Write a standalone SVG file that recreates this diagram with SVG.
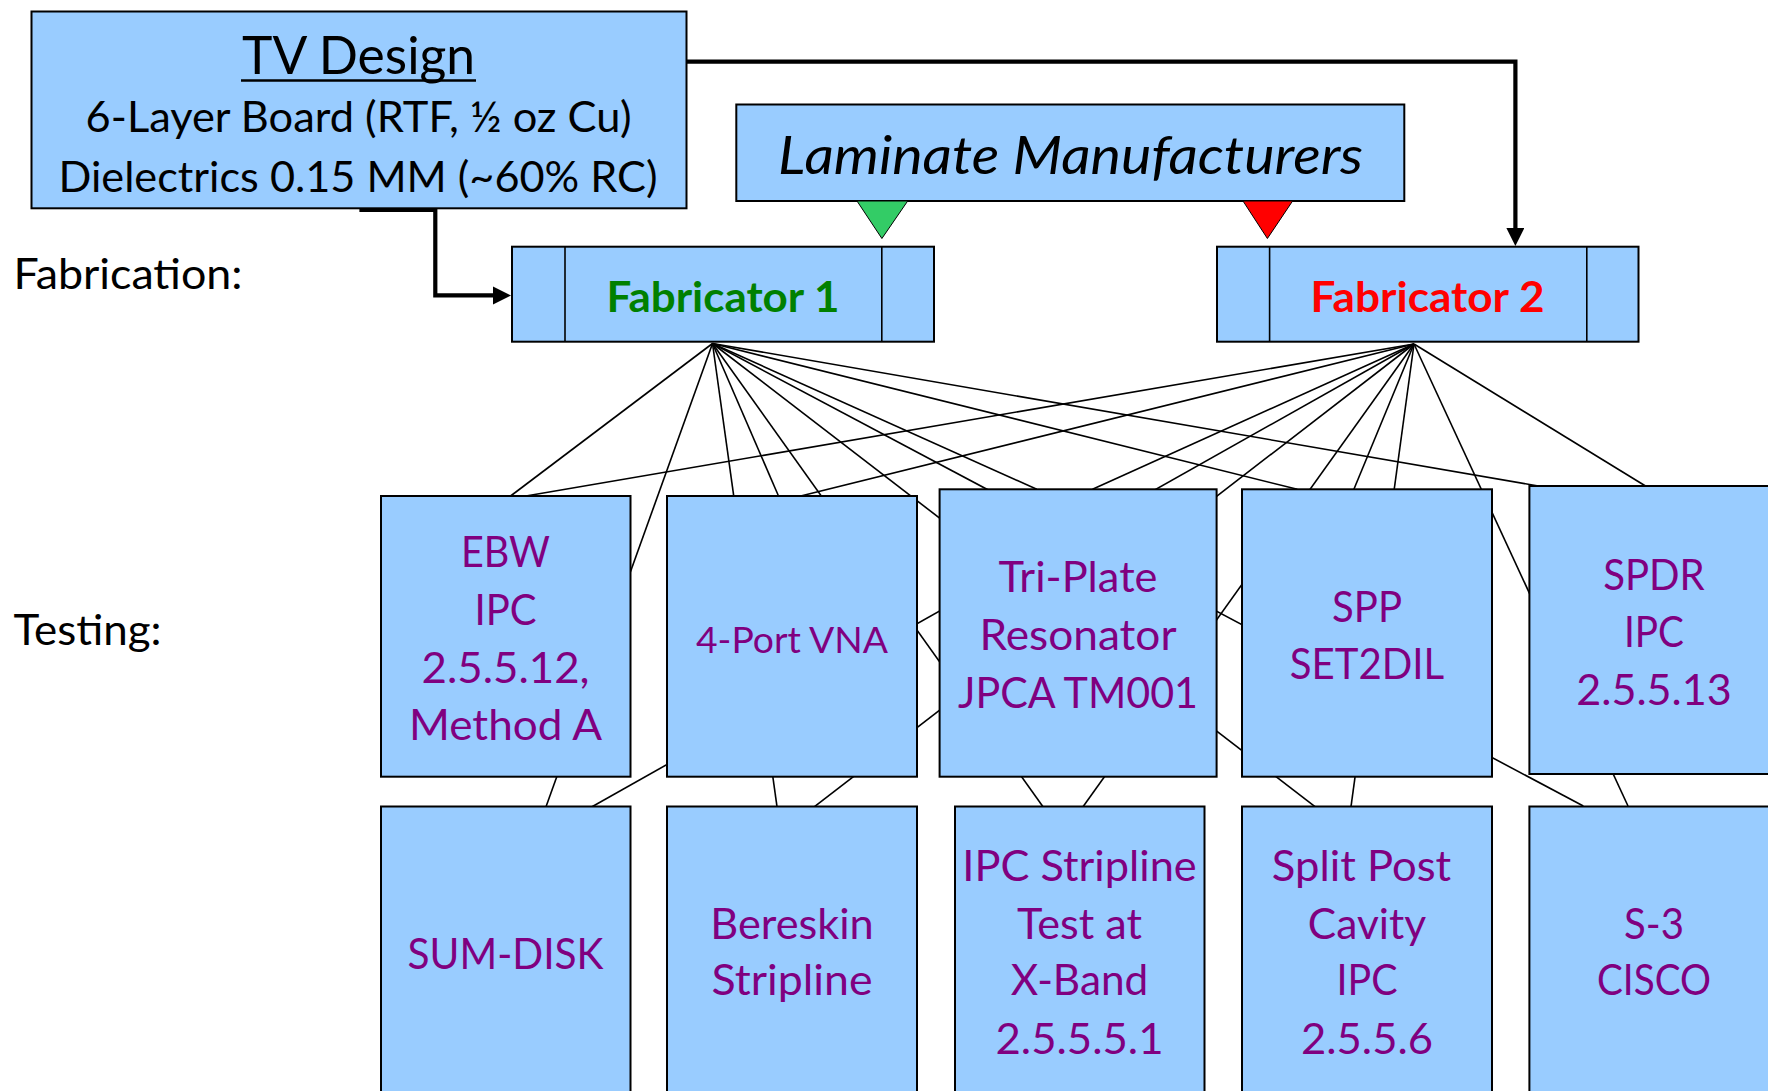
<svg xmlns="http://www.w3.org/2000/svg" width="1768" height="1091" viewBox="0 0 1768 1091">
<style>
.box{fill:#99CCFF;stroke:#000;stroke-width:2}
.div{stroke:#000;stroke-width:1.6}
.f{font-family:Lato,'Liberation Sans',sans-serif;text-anchor:middle}
.p{fill:#800080;font-size:42.5px}
.k{fill:#000;font-size:42.5px}
.fan{stroke:#000;stroke-width:1.6;fill:none}
.thick{stroke:#000;stroke-width:4.2;fill:none}
</style>
<defs>
<marker id="ah" markerUnits="userSpaceOnUse" markerWidth="20" markerHeight="20" refX="12" refY="9" orient="auto">
<path d="M0,0 L18,9 L0,18 Z" fill="#000"/>
</marker>
</defs>
<rect width="1768" height="1091" fill="#fff"/>

<g id="connectors">
<g class="fan">
<line x1="712.5" y1="343.5" x2="510.6" y2="496"/>
<line x1="712.5" y1="343.5" x2="546" y2="806.7"/>
<line x1="712.5" y1="343.5" x2="778.5" y2="496"/>
<line x1="712.5" y1="343.5" x2="777" y2="806.7"/>
<line x1="712.5" y1="343.5" x2="1043" y2="806.7"/>
<line x1="712.5" y1="343.5" x2="1315" y2="806.7"/>
<line x1="712.5" y1="343.5" x2="1036.8" y2="489.3"/>
<line x1="712.5" y1="343.5" x2="1583.3" y2="806"/>
<line x1="712.5" y1="343.5" x2="1297.3" y2="489.3"/>
<line x1="712.5" y1="343.5" x2="1538.4" y2="486"/>
<line x1="1414" y1="344" x2="525.9" y2="496"/>
<line x1="1414" y1="344" x2="800.7" y2="496"/>
<line x1="1414" y1="344" x2="592" y2="806.7"/>
<line x1="1414" y1="344" x2="814.5" y2="806.7"/>
<line x1="1414" y1="344" x2="1092.5" y2="489.3"/>
<line x1="1414" y1="344" x2="1083" y2="806.7"/>
<line x1="1414" y1="344" x2="1353.9" y2="489.3"/>
<line x1="1414" y1="344" x2="1351" y2="806.7"/>
<line x1="1414" y1="344" x2="1628" y2="806"/>
<line x1="1414" y1="344" x2="1645.5" y2="486"/>
</g>
<path class="thick" d="M359.4,209.8 H435.3 V295.4 H505" marker-end="url(#ah)"/>
<path class="thick" d="M686,61.7 H1515.4 V240" marker-end="url(#ah)"/>
</g>

<g id="tv-design">
<rect class="box" x="31.5" y="11.5" width="655" height="196.8"/>
<text class="f" x="358.6" y="74" font-size="52" fill="#000" textLength="233" lengthAdjust="spacingAndGlyphs">TV Design</text>
<line x1="241" y1="80.5" x2="476" y2="80.5" stroke="#000" stroke-width="2.5"/>
<text class="f k" x="358.6" y="132" textLength="546" lengthAdjust="spacingAndGlyphs">6-Layer Board (RTF, ½ oz Cu)</text>
<text class="f k" x="358" y="191.5" textLength="599" lengthAdjust="spacingAndGlyphs">Dielectrics 0.15 MM (~60% RC)</text>
</g>

<g id="laminate-manufacturers">
<rect class="box" x="736.3" y="104.5" width="668" height="96.5"/>
<text class="f" x="1070.6" y="174" font-size="52" font-style="italic" fill="#000" textLength="585" lengthAdjust="spacingAndGlyphs">Laminate Manufacturers</text>
<path d="M857,201 L907.7,201 L881.9,238.5 Z" fill="#33CC66" stroke="#000" stroke-width="1"/>
<path d="M1243,201 L1292.6,201 L1267.4,238.5 Z" fill="#FF0000" stroke="#000" stroke-width="1"/>
</g>

<g id="label-fabrication">
<text x="13.5" y="288.5" font-family="Lato,'Liberation Sans',sans-serif" font-size="42.5" fill="#000" textLength="229" lengthAdjust="spacingAndGlyphs">Fabrication:</text>
</g>
<g id="label-testing">
<text x="13.5" y="645" font-family="Lato,'Liberation Sans',sans-serif" font-size="42.5" fill="#000" textLength="148" lengthAdjust="spacingAndGlyphs">Testing:</text>
</g>

<g id="fabricator-1">
<rect class="box" x="512" y="246.7" width="422" height="95"/>
<line class="div" x1="565" y1="246.7" x2="565" y2="341.7"/>
<line class="div" x1="881.8" y1="246.7" x2="881.8" y2="341.7"/>
<text class="f" x="723" y="312" font-size="42" font-weight="bold" fill="#008000" textLength="233" lengthAdjust="spacingAndGlyphs">Fabricator 1</text>
</g>

<g id="fabricator-2">
<rect class="box" x="1217" y="246.7" width="421.5" height="95"/>
<line class="div" x1="1269.6" y1="246.7" x2="1269.6" y2="341.7"/>
<line class="div" x1="1586.8" y1="246.7" x2="1586.8" y2="341.7"/>
<text class="f" x="1427.5" y="312" font-size="42" font-weight="bold" fill="#FF0000" textLength="234" lengthAdjust="spacingAndGlyphs">Fabricator 2</text>
</g>

<g id="ebw">
<rect class="box" x="381" y="496" width="249.5" height="280.7"/>
<text class="f p" x="505.5" y="567" textLength="89" lengthAdjust="spacingAndGlyphs">EBW</text>
<text class="f p" x="505.5" y="625.3" textLength="62" lengthAdjust="spacingAndGlyphs">IPC</text>
<text class="f p" x="505.5" y="682.7" textLength="168" lengthAdjust="spacingAndGlyphs">2.5.5.12,</text>
<text class="f p" x="505.5" y="740.3" textLength="193" lengthAdjust="spacingAndGlyphs">Method A</text>
</g>

<g id="four-port-vna">
<rect class="box" x="667" y="496" width="250" height="280.7"/>
<text class="f" x="792" y="652.5" font-size="37.5" fill="#800080" textLength="192" lengthAdjust="spacingAndGlyphs">4-Port VNA</text>
</g>

<g id="tri-plate">
<rect class="box" x="939.6" y="489.3" width="277" height="287.4"/>
<text class="f p" x="1078" y="592" textLength="159" lengthAdjust="spacingAndGlyphs">Tri-Plate</text>
<text class="f p" x="1078" y="650.3" textLength="197" lengthAdjust="spacingAndGlyphs">Resonator</text>
<text class="f p" x="1078" y="708" textLength="240" lengthAdjust="spacingAndGlyphs">JPCA TM001</text>
</g>

<g id="spp">
<rect class="box" x="1242" y="489.3" width="250" height="287.4"/>
<text class="f p" x="1367" y="622" textLength="70" lengthAdjust="spacingAndGlyphs">SPP</text>
<text class="f p" x="1367" y="679.3" textLength="154.5" lengthAdjust="spacingAndGlyphs">SET2DIL</text>
</g>

<g id="spdr">
<rect class="box" x="1529.4" y="486" width="251" height="288"/>
<text class="f p" x="1654" y="590.3" textLength="101.5" lengthAdjust="spacingAndGlyphs">SPDR</text>
<text class="f p" x="1654" y="647" textLength="60" lengthAdjust="spacingAndGlyphs">IPC</text>
<text class="f p" x="1654" y="704.7" textLength="155.6" lengthAdjust="spacingAndGlyphs">2.5.5.13</text>
</g>

<g id="sum-disk">
<rect class="box" x="381" y="806.5" width="249.5" height="300"/>
<text class="f p" x="505.5" y="968.7" textLength="196" lengthAdjust="spacingAndGlyphs">SUM-DISK</text>
</g>

<g id="bereskin">
<rect class="box" x="667" y="806.5" width="250" height="300"/>
<text class="f p" x="792" y="938.7" textLength="163.5" lengthAdjust="spacingAndGlyphs">Bereskin</text>
<text class="f p" x="792" y="995.3" textLength="161" lengthAdjust="spacingAndGlyphs">Stripline</text>
</g>

<g id="ipc-stripline">
<rect class="box" x="955" y="806.5" width="249.5" height="300"/>
<text class="f p" x="1079.5" y="881.3" textLength="234.5" lengthAdjust="spacingAndGlyphs">IPC Stripline</text>
<text class="f p" x="1079.5" y="938.7" textLength="125" lengthAdjust="spacingAndGlyphs">Test at</text>
<text class="f p" x="1079.5" y="995.3" textLength="137.6" lengthAdjust="spacingAndGlyphs">X-Band</text>
<text class="f p" x="1079.5" y="1053.7" textLength="168" lengthAdjust="spacingAndGlyphs">2.5.5.5.1</text>
</g>

<g id="split-post-cavity">
<rect class="box" x="1242" y="806.5" width="250" height="300"/>
<text class="f p" x="1361.5" y="881.3" textLength="179.3" lengthAdjust="spacingAndGlyphs">Split Post</text>
<text class="f p" x="1367" y="938.7" textLength="118.4" lengthAdjust="spacingAndGlyphs">Cavity</text>
<text class="f p" x="1367" y="995.3" textLength="61" lengthAdjust="spacingAndGlyphs">IPC</text>
<text class="f p" x="1367" y="1053.7" textLength="132" lengthAdjust="spacingAndGlyphs">2.5.5.6</text>
</g>

<g id="s3-cisco">
<rect class="box" x="1529.4" y="806.5" width="251" height="300"/>
<text class="f p" x="1654" y="938.7" textLength="60" lengthAdjust="spacingAndGlyphs">S-3</text>
<text class="f p" x="1654" y="995.3" textLength="114" lengthAdjust="spacingAndGlyphs">CISCO</text>
</g>
</svg>
